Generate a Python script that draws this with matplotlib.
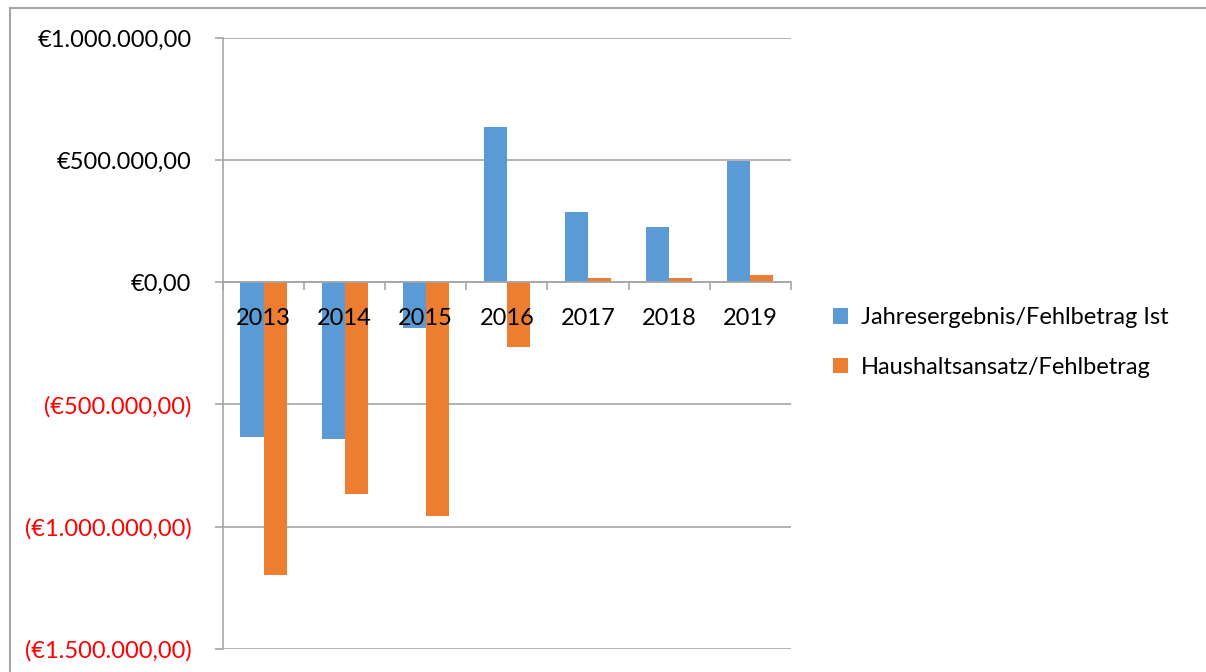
import matplotlib
matplotlib.use("Agg")
import matplotlib.pyplot as plt
from matplotlib.lines import Line2D
from matplotlib.ticker import FixedLocator
from matplotlib.transforms import offset_copy
import numpy as np

# data
years = ["2013", "2014", "2015", "2016", "2017", "2018", "2019"]
ist = [-633000, -640000, -186000, 635000, 288000, 225000, 495000]
ansatz = [-1199000, -865000, -955000, -265000, 18000, 19000, 29000]
series_names = ["Jahresergebnis/Fehlbetrag Ist", "Haushaltsansatz/Fehlbetrag"]
yticks = [-1500000, -1000000, -500000, 0, 500000, 1000000]

blue = "#5B9BD5"
orange = "#ED7D31"
gray = "#A6A6A6"
fs = 17

plt.rcParams['font.family'] = ['Lato', 'DejaVu Sans']

W, H = 1206, 672
fig = plt.figure(figsize=(W / 100, H / 100), dpi=100)
ax = fig.add_axes([223 / W, 1 - 648.7 / H, (790.7 - 223) / W, (648.7 - 38) / H])


def euro(v):
    s = "{:,.2f}".format(abs(v)).replace(",", "X").replace(".", ",").replace("X", ".")
    return "(€" + s + ")" if v < 0 else "€" + s


x = np.arange(len(years))
bw = 0.285
ax.set_axisbelow(True)
ax.bar(x - bw / 2, ist, bw, color=blue, label=series_names[0], zorder=3)
ax.bar(x + bw / 2, ansatz, bw, color=orange, label=series_names[1], zorder=3)

ax.set_xlim(-0.5, len(years) - 0.5)
ax.set_ylim(yticks[0], yticks[-1])
ax.set_yticks(yticks)
ax.set_yticklabels([euro(v) for v in yticks], fontsize=fs)
for lab, v in zip(ax.get_yticklabels(), yticks):
    lab.set_color("red" if v < 0 else "black")
ax.yaxis.grid(True, color=gray, lw=1.2)
ax.tick_params(axis="y", length=5.8, width=1.2, color=gray, pad=17, direction="out")

# category axis at zero
for s in ["top", "right"]:
    ax.spines[s].set_visible(False)
ax.spines["bottom"].set_position(("data", 0))
ax.spines["bottom"].set_color(gray)
ax.spines["bottom"].set_linewidth(1.2)
ax.spines["bottom"].set_zorder(4)
ax.spines["left"].set_color(gray)
ax.spines["left"].set_linewidth(1.2)
ax.set_xticks([])
ax.xaxis.set_minor_locator(FixedLocator(np.arange(-0.5, len(years), 1.0)))
ax.tick_params(axis="x", which="minor", length=5.8, width=1.2, color=gray, direction="out")

# year labels sit just under the zero line, on top of the bars
lab_tr = offset_copy(ax.transData, fig=fig, x=0, y=-36, units="dots")
for xi, yr in zip(x, years):
    ax.text(xi, 0, yr, transform=lab_tr, ha="center", va="center",
            fontsize=fs, color="black", zorder=6)

ax.legend(loc="center left", bbox_to_anchor=(833 / W, 1 - 342.5 / H),
          bbox_transform=fig.transFigure, frameon=False, fontsize=fs,
          handlelength=0.64, handleheight=0.64, handletextpad=0.55,
          labelspacing=1.2, borderpad=0, borderaxespad=0)

# chart border (top and left visible)
fig.add_artist(Line2D([10 / W, 1], [1 - 7.5 / H, 1 - 7.5 / H], color=gray, lw=1.5))
fig.add_artist(Line2D([10 / W, 10 / W], [0, 1 - 7.5 / H], color=gray, lw=1.5))

fig.savefig("out.png", dpi=100)
